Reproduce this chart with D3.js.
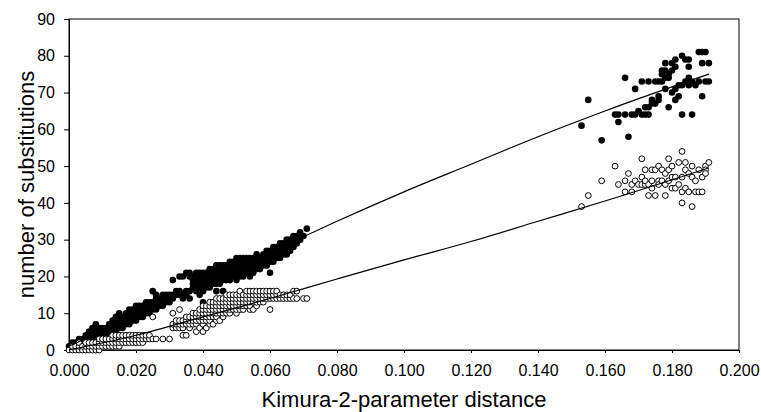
<!DOCTYPE html>
<html>
<head>
<meta charset="utf-8">
<script src="https://cdn.jsdelivr.net/npm/d3@7/dist/d3.min.js"></script>
<style>
  body { margin: 0; background: #fff; }
  text { font-family: "Liberation Sans", Arial, sans-serif; fill: #000; }
</style>
</head>
<body>
<svg id="main"></svg>
<script>

var chart = {
  width: 761,
  height: 412,
  left: 69,
  right: 739,
  top: 19,
  bottom: 350
}

// tick values
var xTicks = [0, 0.02, 0.04, 0.06, 0.08, 0.10, 0.12, 0.14, 0.16, 0.18, 0.20];
var yTicks = [0, 10, 20, 30, 40, 50, 60, 70, 80, 90];

// low-distance cluster, filled dots: [distance, list of substitution counts]
var filledLow = [
  [0.000, [1]], [0.001, [1, 2]], [0.002, [1, 2]], [0.003, [2, 3]], [0.004, [2, 3]],
  [0.005, [2, 3, 4]], [0.006, [3, 4, 5]], [0.007, [3, 4, 5, 6]], [0.008, [4, 5, 6, 7]],
  [0.009, [3, 4, 6]], [0.010, [4, 5, 6]], [0.011, [4, 5, 6]], [0.012, [5, 6, 7]],
  [0.013, [5, 6, 7, 8]], [0.014, [5, 6, 7, 8, 9]], [0.015, [6, 7, 8, 9, 10]],
  [0.016, [6, 7, 8, 9]], [0.017, [7, 8, 9, 10]], [0.018, [7, 8, 9, 10, 11]],
  [0.019, [8, 9, 10, 11]], [0.020, [8, 9, 10, 11, 12]], [0.021, [9, 10, 11, 12]],
  [0.022, [9, 10, 11, 12]], [0.023, [10, 11, 12, 13]], [0.024, [10, 11, 12, 13]],
  [0.025, [11, 12, 13, 16]], [0.026, [11, 12, 13, 14, 15]], [0.027, [12, 13, 14]],
  [0.028, [12, 13, 14, 15]], [0.029, [13, 14, 15]], [0.030, [13, 14, 15]],
  [0.031, [14, 15, 19]], [0.032, [15, 16]], [0.033, [15, 16, 20]], [0.034, [14, 15, 20]],
  [0.035, [15, 16, 21]], [0.036, [14, 16, 20, 21]], [0.037, [17, 18, 19, 20]],
  [0.038, [16, 17, 18, 19, 20, 21]], [0.039, [15, 17, 18, 19, 20, 21]],
  [0.040, [13, 16, 18, 19, 20, 21]], [0.041, [17, 18, 19, 20, 21]],
  [0.042, [17, 18, 19, 20, 21, 22]], [0.043, [18, 19, 20, 21, 22]],
  [0.044, [16, 18, 19, 20, 21, 22, 23]], [0.045, [18, 19, 20, 21, 22, 23]],
  [0.046, [16, 19, 20, 21, 22, 23]], [0.047, [19, 20, 21, 22, 23]],
  [0.048, [19, 20, 21, 22, 23, 24]], [0.049, [20, 21, 22, 23, 24]],
  [0.050, [19, 20, 21, 22, 23, 24, 25]], [0.051, [20, 21, 22, 23, 24, 25]],
  [0.052, [20, 21, 22, 23, 24, 25]], [0.053, [21, 22, 23, 24, 25]],
  [0.054, [20, 21, 22, 23, 24, 25]], [0.055, [21, 22, 23, 24, 25]],
  [0.056, [22, 23, 24, 25, 26]], [0.057, [22, 23, 24, 25]], [0.058, [23, 24, 25, 26]],
  [0.059, [23, 24, 25, 26, 27]], [0.060, [21, 24, 25, 26, 27]],
  [0.061, [24, 25, 26, 27, 28]], [0.062, [25, 26, 27, 28]], [0.063, [25, 26, 27, 28, 29]],
  [0.064, [26, 27, 28, 29]], [0.065, [26, 27, 28, 29, 30]], [0.066, [27, 28, 29, 30]],
  [0.067, [28, 29, 30, 31]], [0.068, [29, 30, 31]], [0.069, [30, 31, 32]],
  [0.070, [31]], [0.071, [33]]
];

// low-distance cluster, open circles
var openLow = [
  [0.000, [0]], [0.001, [0, 1]], [0.002, [0, 1]], [0.003, [0, 1, 2]], [0.004, [0, 1]],
  [0.005, [0, 1, 2]], [0.006, [0, 1, 2]], [0.007, [0, 1, 2]], [0.008, [0, 1, 2]],
  [0.009, [0, 1, 2, 3]], [0.010, [1, 2, 3]], [0.011, [1, 2, 3]], [0.012, [1, 2, 3]],
  [0.013, [1, 2, 3, 4]], [0.014, [1, 2, 3, 4]], [0.015, [1, 2, 3, 4]], [0.016, [2, 3, 4]],
  [0.017, [2, 3, 4]], [0.018, [2, 3, 4]], [0.019, [2, 3, 4]], [0.020, [2, 3, 4]],
  [0.021, [2, 3, 4]], [0.022, [2, 3, 4]], [0.023, [3, 4]], [0.024, [3, 4]],
  [0.025, [3, 9]], [0.026, [3]], [0.028, [3]], [0.030, [3]],
  [0.031, [6, 7, 10]], [0.032, [6, 7, 8]], [0.033, [6, 7, 8, 11]], [0.034, [4, 6, 7, 8]],
  [0.035, [4, 7, 8, 9]], [0.036, [6, 7, 8, 9]], [0.037, [7, 8, 9, 10]],
  [0.038, [5, 7, 8, 9, 10]], [0.039, [6, 8, 9, 10, 11]], [0.040, [5, 7, 8, 9, 10, 11, 12]],
  [0.041, [6, 8, 9, 10, 11, 12]], [0.042, [7, 8, 9, 10, 11, 12, 13]],
  [0.043, [7, 9, 10, 11, 12, 13]], [0.044, [8, 9, 10, 11, 12, 13, 14]],
  [0.045, [8, 10, 11, 12, 13, 14]], [0.046, [9, 10, 11, 12, 13, 14]],
  [0.047, [10, 11, 12, 13, 14, 15]], [0.048, [10, 11, 12, 13, 14, 15]],
  [0.049, [11, 12, 13, 14, 15]], [0.050, [10, 11, 12, 13, 14, 15]],
  [0.051, [11, 12, 13, 14, 15, 16]], [0.052, [11, 12, 13, 14, 15]],
  [0.053, [12, 13, 14, 15, 16]], [0.054, [11, 12, 13, 14, 15, 16]],
  [0.055, [11, 13, 14, 15, 16]], [0.056, [12, 13, 14, 15, 16]], [0.057, [13, 14, 15, 16]],
  [0.058, [13, 14, 15, 16]], [0.059, [14, 15, 16]], [0.060, [11, 14, 15, 16]],
  [0.061, [14, 15, 16]], [0.062, [14, 15, 16]], [0.063, [14, 15]], [0.064, [14, 15]],
  [0.065, [14, 15]], [0.066, [14, 15]], [0.067, [14, 16]], [0.068, [14, 16]],
  [0.070, [14]], [0.071, [14]]
];

// high-distance cluster: [distance, substitutions]
var filledHigh = [
  [0.153, 61], [0.155, 68], [0.159, 57], [0.163, 64], [0.164, 64], [0.164, 62],
  [0.166, 74], [0.166, 64], [0.167, 58], [0.168, 64], [0.169, 64], [0.169, 71],
  [0.170, 65], [0.171, 64], [0.171, 73], [0.172, 64], [0.172, 66], [0.173, 64],
  [0.173, 73], [0.173, 66], [0.174, 67], [0.174, 68], [0.175, 73], [0.175, 67],
  [0.176, 73], [0.176, 68], [0.176, 69], [0.177, 73], [0.177, 76], [0.177, 75],
  [0.178, 74], [0.178, 71], [0.178, 76], [0.178, 78], [0.179, 66], [0.179, 74],
  [0.179, 75], [0.180, 70], [0.180, 76], [0.180, 78], [0.181, 71], [0.181, 68],
  [0.181, 77], [0.181, 79], [0.182, 72], [0.182, 69], [0.183, 64], [0.183, 80],
  [0.183, 72], [0.184, 79], [0.184, 73], [0.185, 79], [0.185, 77], [0.185, 74],
  [0.185, 72], [0.186, 64], [0.186, 73], [0.187, 72], [0.188, 73], [0.188, 81],
  [0.189, 69], [0.189, 81], [0.189, 78], [0.190, 81], [0.190, 73], [0.191, 78],
  [0.191, 73]
];

var openHigh = [
  [0.153, 39], [0.155, 42], [0.159, 46], [0.163, 50], [0.164, 45], [0.166, 43],
  [0.166, 46], [0.167, 48], [0.168, 45], [0.168, 43], [0.169, 46], [0.170, 45],
  [0.171, 52], [0.171, 47], [0.171, 45], [0.172, 45], [0.172, 49], [0.172, 46],
  [0.173, 45], [0.173, 42], [0.174, 49], [0.174, 46], [0.174, 44], [0.175, 49],
  [0.175, 42], [0.176, 46], [0.176, 45], [0.176, 50], [0.177, 46], [0.177, 49],
  [0.178, 42], [0.178, 45], [0.178, 48], [0.179, 46], [0.179, 49], [0.179, 52],
  [0.180, 47], [0.180, 44], [0.180, 50], [0.181, 47], [0.181, 44], [0.182, 45],
  [0.182, 51], [0.183, 54], [0.183, 43], [0.183, 40], [0.183, 47], [0.184, 44],
  [0.184, 49], [0.184, 51], [0.185, 48], [0.185, 43], [0.186, 39], [0.186, 50],
  [0.186, 47], [0.187, 43], [0.187, 46], [0.188, 43], [0.188, 49], [0.189, 47],
  [0.189, 43], [0.190, 50], [0.190, 49], [0.190, 48], [0.191, 51]
];

// fitted trend lines
var filledTrend = [
  [0.000, 1], [0.020, 9.5], [0.040, 18], [0.060, 26.5], [0.080, 35], [0.100, 43],
  [0.120, 50.5], [0.140, 58], [0.160, 65], [0.191, 75]
];
var openTrend = [
  [0.000, 0], [0.020, 4], [0.040, 9], [0.060, 14], [0.080, 19.3], [0.100, 24.5],
  [0.120, 29.5], [0.140, 35], [0.160, 40.5], [0.191, 49.5]
];

function flatten(cols) {
  var out = [];
  cols.forEach(function(c) {
    c[1].forEach(function(v) { out.push([c[0], v]); });
  });
  return out;
}

var filledPts = flatten(filledLow).concat(filledHigh);
var openPts = flatten(openLow).concat(openHigh);

var svg = d3.select("#main")
  .attr("width", chart.width)
  .attr("height", chart.height);

var x = d3.scaleLinear()
  .domain([0, 0.2])
  .range([chart.left, chart.right]);

var y = d3.scaleLinear()
  .domain([0, 90])
  .range([chart.bottom, chart.top]);

// frame
svg.append("rect")
  .attr("x", chart.left)
  .attr("y", chart.top)
  .attr("width", chart.right - chart.left)
  .attr("height", chart.bottom - chart.top)
  .attr("fill", "none")
  .attr("stroke", "#000")
  .attr("stroke-width", 1);

var xAxis = svg.append("g")
  .attr("transform", "translate(0," + chart.bottom + ")")
  .call(d3.axisBottom(x).tickValues(xTicks).tickFormat(d3.format(".3f"))
    .tickSize(3).tickPadding(12));

var yAxis = svg.append("g")
  .attr("transform", "translate(" + chart.left + ",0)")
  .call(d3.axisLeft(y).tickValues(yTicks).tickSize(5).tickPadding(9));

[xAxis, yAxis].forEach(function(a) {
  a.selectAll("text").style("font-size", "16px").attr("fill", "#000");
  a.selectAll("line").attr("stroke", "#000");
  a.select(".domain").attr("stroke", "#000");
});

// dots
svg.append("g").selectAll("circle")
  .data(filledPts)
  .join("circle")
  .attr("cx", function(d) { return x(d[0]); })
  .attr("cy", function(d) { return y(d[1]); })
  .attr("r", 3.3)
  .attr("fill", "#000");

svg.append("g").selectAll("circle")
  .data(openPts)
  .join("circle")
  .attr("cx", function(d) { return x(d[0]); })
  .attr("cy", function(d) { return y(d[1]); })
  .attr("r", 2.9)
  .attr("fill", "#fff")
  .attr("stroke", "#000")
  .attr("stroke-width", 1);

// trend lines
var line = d3.line()
  .x(function(d) { return x(d[0]); })
  .y(function(d) { return y(d[1]); })
  .curve(d3.curveMonotoneX);

[filledTrend, openTrend].forEach(function(t) {
  svg.append("path")
    .attr("d", line(t))
    .attr("fill", "none")
    .attr("stroke", "#000")
    .attr("stroke-width", 1.2);
});

// titles
svg.append("text")
  .attr("x", (chart.left + chart.right) / 2)
  .attr("y", 407)
  .attr("text-anchor", "middle")
  .style("font-size", "22px")
  .text("Kimura-2-parameter distance");

svg.append("text")
  .attr("transform", "translate(34," + ((chart.top + chart.bottom) / 2) + ") rotate(-90)")
  .attr("text-anchor", "middle")
  .style("font-size", "22px")
  .text("number of substitutions");

</script>
</body>
</html>
